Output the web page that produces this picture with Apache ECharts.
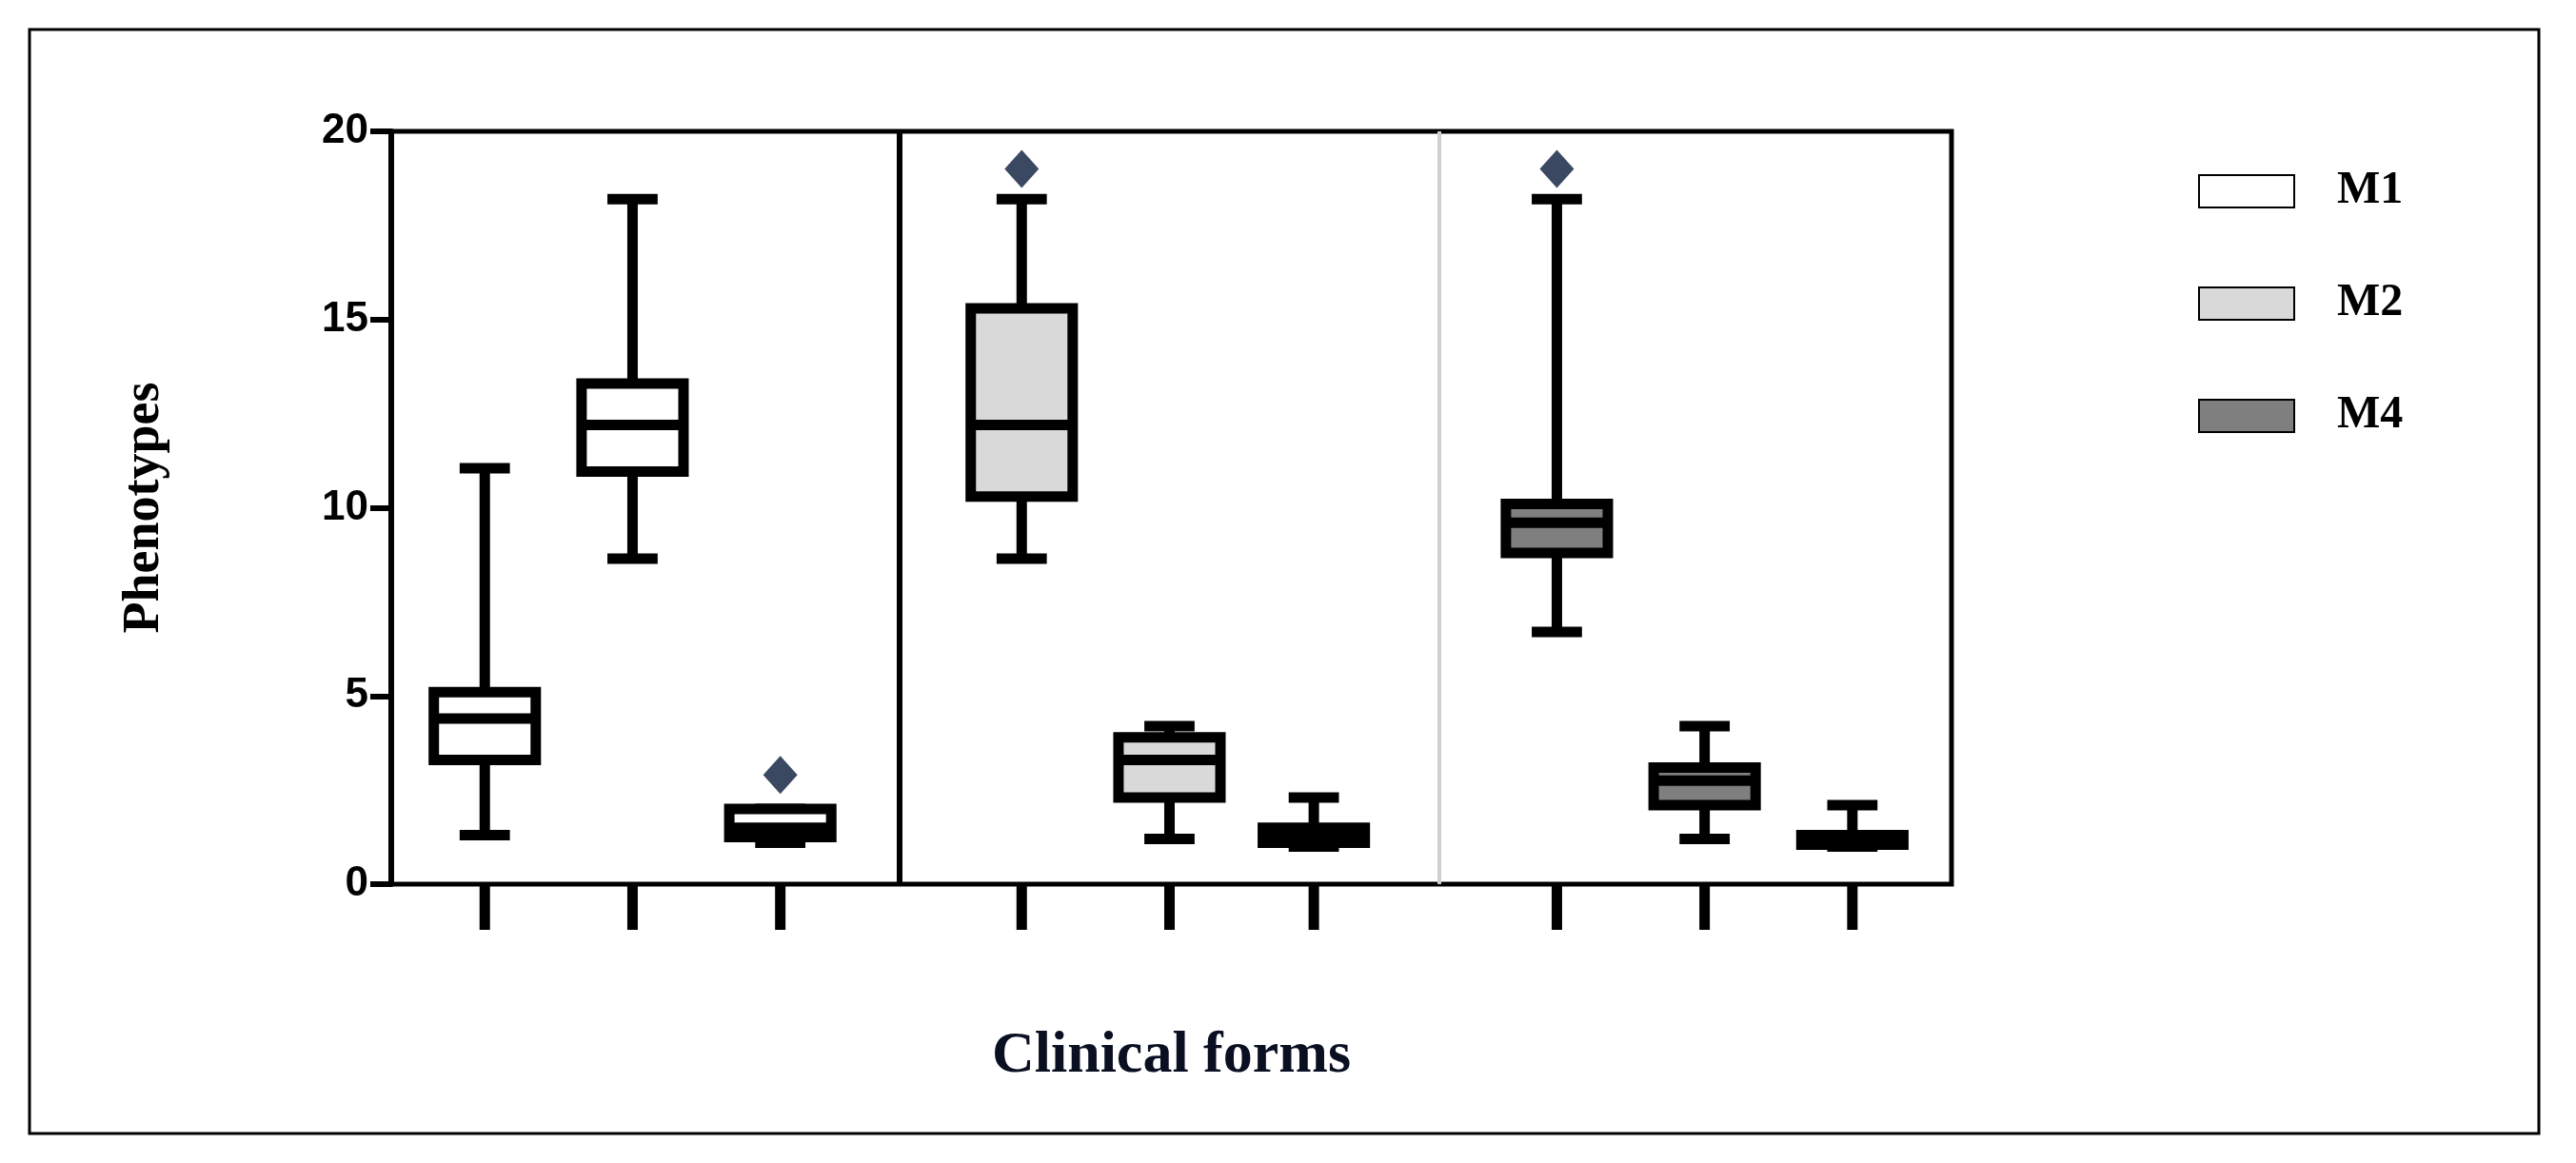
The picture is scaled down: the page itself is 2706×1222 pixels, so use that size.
<!DOCTYPE html>
<html><head><meta charset="utf-8">
<script src="https://cdn.jsdelivr.net/npm/echarts@6/dist/echarts.min.js"></script>
<style>html,body{margin:0;padding:0;background:#fff}#c{width:2706px;height:1222px}</style>
</head><body><div id="c"></div>
<script>
// x positions of boxes (axis units), per group
const positions = [[0.633,1.633,2.633],[4.267,5.267,6.244],[7.889,8.889,9.889]];
const seriesNames = ['M1','M2','M4'];
const fills = ['#ffffff','#d9d9d9','#7f7f7f'];
// [low, q1, median, q3, high]
const group1 = [[1.3,3.3,4.4,5.1,11.05],[8.65,10.96,12.2,13.3,18.2],[1.1,1.25,1.5,2.0,2.0]];
const group2 = [[8.65,10.3,12.2,15.3,18.2],[1.2,2.3,3.3,3.9,4.2],[1.0,1.1,1.3,1.5,2.3]];
const group3 = [[6.7,8.8,9.6,10.1,18.2],[1.2,2.1,2.75,3.1,4.2],[1.0,1.05,1.2,1.3,2.1]];
const outliers = [[2.633,2.9],[4.267,19.0],[7.889,19.0]];
const yTicks = [0,5,10,15,20];
const dividers = [3.444,7.089];

const groups=[group1,group2,group3];
const LW=11;
function renderBox(fill){
  return function(params, api){
    const x=api.value(0);
    const bw=api.size([0.69,0])[0], cw=api.size([0.34,0])[0];
    const p=k=>api.coord([x,api.value(k)]);
    const lo=p(1),q1=p(2),md=p(3),q3=p(4),hi=p(5),base=api.coord([x,0]);
    const ls={stroke:'#000',lineWidth:LW};
    const L=(x1,y1,x2,y2)=>({type:'line',shape:{x1,y1,x2,y2},style:ls});
    return {type:'group',children:[
      L(base[0],base[1],base[0],base[1]+48),
      L(lo[0],lo[1],lo[0],q1[1]),
      L(hi[0],hi[1],hi[0],q3[1]),
      L(lo[0]-cw/2,lo[1],lo[0]+cw/2,lo[1]),
      L(hi[0]-cw/2,hi[1],hi[0]+cw/2,hi[1]),
      {type:'rect',shape:{x:q3[0]-bw/2,y:q3[1],width:bw,height:Math.max(q1[1]-q3[1],1)},style:{fill:fill,stroke:'#000',lineWidth:LW}},
      L(md[0]-bw/2,md[1],md[0]+bw/2,md[1])
    ]};
  };
}
const series=groups.map((g,i)=>({
  name:seriesNames[i],type:'custom',clip:false,
  itemStyle:{color:fills[i],borderColor:'#000',borderWidth:9},
  renderItem:renderBox(fills[i]),
  encode:{x:0,y:[1,2,3,4,5]},
  data:g.map((d,j)=>[positions[i][j],...d]),
  markLine: i===0?{silent:true,symbol:'none',label:{show:false},
    data:[{xAxis:dividers[0],lineStyle:{color:'#000',width:6,type:'solid'}},
          {xAxis:dividers[1],lineStyle:{color:'#d0d0d0',width:4,type:'solid'}}]}:undefined
}));
series.push({type:'scatter',symbol:'diamond',symbolSize:[36,40],itemStyle:{color:'#0a1a3a'},data:outliers,z:5});
const chart=echarts.init(document.getElementById('c'));
chart.setOption({
  animation:false,
  graphic:[{type:'rect',shape:{x:31,y:31,width:2636,height:1160},style:{fill:'none',stroke:'#000',lineWidth:3}}],
  grid:{left:411,top:138,width:1639,height:791,show:true,borderColor:'#000',borderWidth:5,backgroundColor:'transparent'},
  legend:{orient:'vertical',left:2304,top:172,itemGap:70,itemWidth:100,itemHeight:34,
    data:seriesNames,icon:'rect',
    textStyle:{fontFamily:'Liberation Serif',fontWeight:'bold',fontSize:48,color:'#000',padding:[0,0,0,40]}},
  xAxis:{type:'value',min:0,max:10.56,show:true,axisLine:{show:false},axisTick:{show:false},axisLabel:{show:false},splitLine:{show:false},
    name:'Clinical forms',nameLocation:'middle',nameGap:150,
    nameTextStyle:{fontFamily:'Liberation Serif',fontWeight:'bold',fontSize:62,color:'#0a0f22'}},
  yAxis:{type:'value',min:0,max:20,interval:5,
    axisLine:{show:true,lineStyle:{color:'#000',width:6}},
    axisTick:{show:true,length:22,lineStyle:{color:'#000',width:6}},
    axisLabel:{fontFamily:'Liberation Sans',fontWeight:'bold',fontSize:44,color:'#000',margin:24,formatter:v=>yTicks.includes(v)?String(v):''},
    splitLine:{show:false},
    name:'Phenotypes',nameLocation:'middle',nameGap:232,
    nameTextStyle:{fontFamily:'Liberation Serif',fontWeight:'bold',fontSize:54,color:'#000'}},
  series
});
</script></body></html>
